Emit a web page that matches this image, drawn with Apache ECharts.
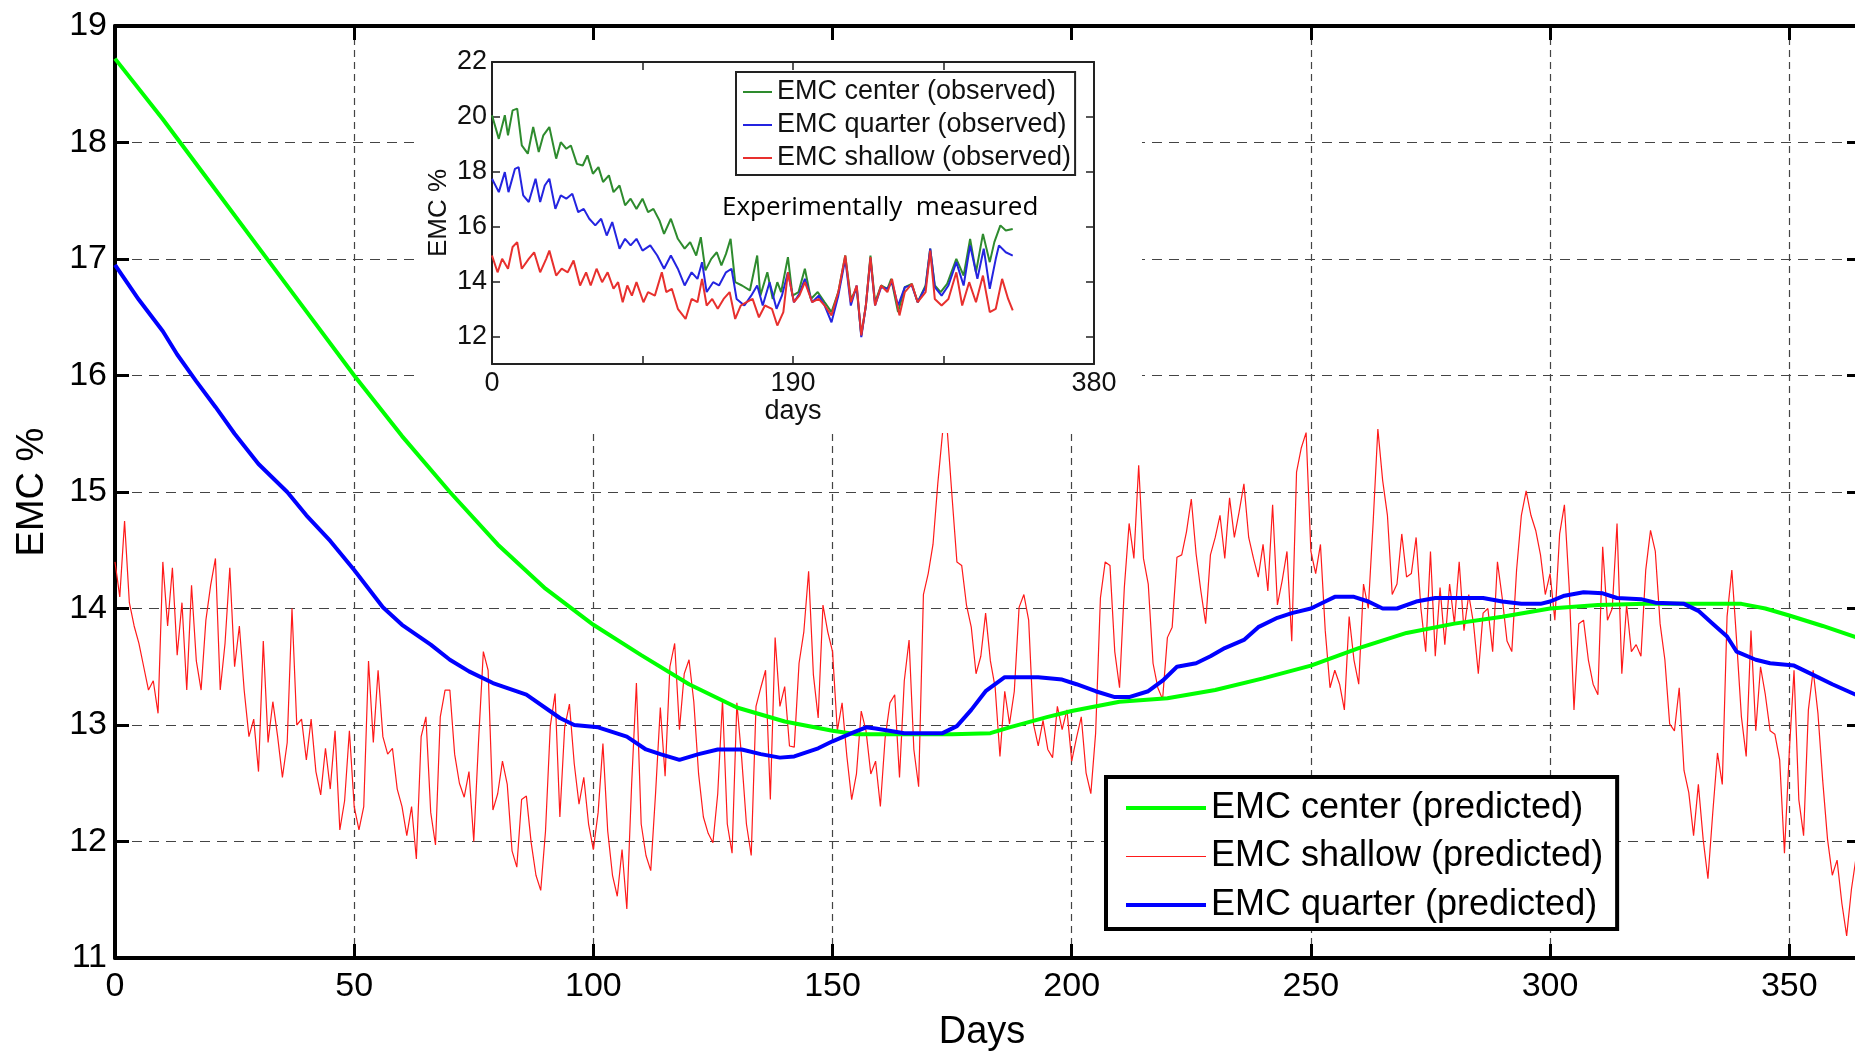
<!DOCTYPE html>
<html><head><meta charset="utf-8">
<script src="https://cdn.jsdelivr.net/npm/echarts@6.0.0/dist/echarts.min.js"></script>
<style>html,body{margin:0;padding:0;background:#fff}#c{width:1855px;height:1052px}</style>
</head><body><div id="c"></div>
<script>
// ---------- main chart data ----------
const xTicksMain = [0, 50, 100, 150, 200, 250, 300, 350];
const yTicksMain = [11, 12, 13, 14, 15, 16, 17, 18, 19];

// EMC center (predicted): [day, value]
const centerPred = [[0,18.72],[10,18.2],[20,17.65],[30,17.1],[40,16.55],[50,16.0],[60,15.48],[70,15.0],[80,14.55],[90,14.17],
  [100,13.86],[110,13.6],[120,13.35],[130,13.15],[140,13.03],[150,12.95],[155,12.92],[165,12.92],[175,12.92],[183,12.93],
  [187,12.98],[195,13.07],[200,13.12],[210,13.2],[220,13.23],[230,13.3],[240,13.4],[250,13.51],[260,13.66],[270,13.79],
  [280,13.87],[290,13.93],[300,14.0],[310,14.03],[320,14.04],[330,14.04],[340,14.04],[345,14.0],[350,13.94],[357,13.85],[365,13.74]];

// EMC quarter (predicted): [day, value]
const quarterPred = [[0,16.95],[5,16.65],[10,16.38],[13,16.18],[17,15.95],[21,15.73],[25,15.5],[30,15.24],[36,15.0],[40,14.8],
  [45,14.58],[50,14.33],[56,14.01],[60,13.86],[66,13.69],[70,13.56],[74,13.46],[79,13.36],[86,13.26],[93,13.06],
  [96,13.0],[101,12.98],[107,12.9],[111,12.79],[114,12.75],[118,12.7],[122,12.75],[126,12.79],[131,12.79],[135,12.75],
  [139,12.72],[142,12.73],[147,12.8],[150,12.86],[154,12.93],[157,12.98],[159,12.97],[165,12.93],[173,12.93],[176,12.99],
  [179,13.13],[182,13.29],[186,13.41],[193,13.41],[198,13.39],[201,13.35],[205,13.29],[209,13.24],[212,13.24],[216,13.29],
  [219,13.38],[222,13.5],[226,13.53],[229,13.59],[232,13.66],[236,13.73],[239,13.84],[243,13.92],[246,13.96],[250,14.0],
  [253,14.06],[255,14.1],[259,14.1],[262,14.06],[265,14.0],[268,14.0],[272,14.06],[276,14.09],[281,14.09],[286,14.09],
  [290,14.06],[294,14.04],[298,14.04],[300,14.06],[303,14.11],[307,14.14],[311,14.13],[314,14.09],[319,14.08],[322,14.05],
  [328,14.04],[331,13.98],[334,13.87],[337,13.76],[339,13.63],[343,13.56],[346,13.53],[351,13.51],[355,13.43],[359,13.35],[365,13.24]];

// EMC shallow (predicted): one value per day, day 0..365
const shallowPred = [
  14.4,14.1,14.75,14.05,13.85,13.7,13.5,13.3,13.38,13.1,
  14.4,13.85,14.35,13.6,14.05,13.3,14.2,13.55,13.3,13.9,
  14.2,14.43,13.3,13.7,14.35,13.5,13.85,13.3,12.9,13.05,
  12.6,13.72,12.85,13.2,12.9,12.55,12.85,14.0,13.0,13.05,
  12.7,13.05,12.6,12.4,12.8,12.45,12.95,12.1,12.35,12.95,
  12.3,12.1,12.3,13.55,12.85,13.47,12.9,12.75,12.8,12.45,
  12.3,12.05,12.3,11.85,12.9,13.07,12.25,11.97,13.07,13.3,
  13.3,12.75,12.5,12.38,12.6,
  12.0,12.86,13.63,13.47,12.27,12.41,12.69,12.49,11.92,11.78,
  12.36,12.39,11.99,11.71,11.58,12.09,12.99,13.27,12.21,12.98,
  13.18,12.67,12.32,12.55,12.15,11.93,12.25,12.84,12.09,11.71,
  11.53,11.93,11.42,12.49,13.36,12.15,11.88,11.75,12.41,13.15,
  12.56,13.5,13.7,12.96,13.44,13.56,13.2,12.58,12.21,12.07,
  11.99,12.41,13.21,12.15,11.9,13.19,12.72,12.15,11.88,13.16,
  13.32,13.47,12.36,13.75,13.16,13.33,12.82,12.81,13.53,13.8,
  14.32,13.43,13.06,
  14.03,13.8,13.63,12.95,13.19,12.73,12.36,12.58,13.12,12.95,
  12.58,12.69,12.3,12.89,13.19,13.26,12.55,13.38,13.73,12.79,
  12.47,14.12,14.3,14.55,15.07,15.51,15.52,14.95,14.4,14.37,
  14.03,13.84,13.44,13.59,13.96,13.55,13.32,12.73,13.29,13.01,
  13.29,14.01,14.12,13.9,13.01,12.82,13.04,12.79,12.72,13.16,
  12.96,13.13,12.69,12.89,13.07,12.59,12.41,12.93,14.09,14.4,
  14.37,13.63,13.32,14.18,14.73,14.43,15.23,14.43,14.21,13.53,
  13.32,13.22,13.75,
  13.84,14.44,14.46,14.66,14.94,14.47,14.15,13.87,14.46,14.61,
  14.8,14.43,14.95,14.61,14.83,15.07,14.61,14.43,14.27,14.55,
  14.15,14.89,14.03,14.24,14.49,13.72,15.17,15.38,15.51,14.49,
  14.3,14.55,13.81,13.32,13.47,13.35,13.13,13.93,13.56,13.35,
  14.21,14.0,14.73,15.54,15.1,14.8,14.12,14.21,14.64,14.27,
  14.3,14.61,14.0,13.63,14.49,13.59,14.18,13.69,14.21,13.87,
  14.4,13.81,14.12,13.87,13.44,13.96,14.0,13.63,14.4,14.09,
  13.72,13.63,14.33,
  14.8,15.01,14.8,14.67,14.46,14.12,14.3,13.9,14.64,14.89,
  14.18,13.13,13.87,13.9,13.56,13.35,13.26,14.53,13.9,14.0,
  14.73,13.44,14.03,13.63,13.69,13.59,14.33,14.67,14.49,13.87,
  13.56,13.01,12.95,13.32,12.61,12.42,12.05,12.49,12.02,11.68,
  12.24,12.76,12.49,13.93,14.33,13.72,13.07,12.73,13.81,12.95,
  13.5,13.26,12.95,12.92,12.7,11.9,12.76,13.47,12.36,12.05,
  13.13,13.47,13.1,12.52,12.02,11.71,11.84,11.47,11.19,11.59,
  11.87,11.8
];

// ---------- inset (experimentally measured) data ----------
const insetXTicks = [0, 190, 380];
const insetYTicks = [12, 14, 16, 18, 20, 22];
const centerObs = [[0,20.06],[4.3,19.2],[8.1,20.06],[10.1,19.33],[13,20.24],[15.9,20.3],[18.8,18.96],[22.6,18.66],[26,19.63],[29.5,18.72],
  [32.4,19.33],[36.2,19.63],[40.5,18.48],[43.4,19.08],[46.9,18.84],[49.8,18.96],[53.6,18.29],[57.3,18.23],[60.2,18.6],[63.7,17.93],
  [67.2,18.17],[70.1,17.63],[73.8,17.87],[76.7,17.26],[80.5,17.5],[84,16.78],[87.5,17.02],[91.2,16.65],[95,17.02],[98.5,16.53],
  [101.9,16.65],[105.7,16.23],[108.6,15.74],[112.9,16.29],[117.3,15.56],[121.6,15.2],[125.1,15.44],[128.9,14.95],[131.8,15.62],[134.7,14.41],
  [138.4,14.83],[141.9,15.07],[144.8,14.59],[147.7,15.01],[150.6,15.56],[153.5,13.98],[157.8,13.86],[162.8,13.68],[167.4,14.95],[169.4,13.49],
  [173.8,14.34],[177.2,13.37],[180.1,13.98],[182.5,13.62],[186.8,14.89],[189.7,13.49],[193.5,13.62],[197.5,14.47],[201.3,13.37],[205.6,13.62],
  [210,13.25],[214.3,12.89],[218.6,13.62],[223,14.95],[226.5,13.37],[230.2,13.74],[233.1,12.04],[236,13.13],[238.9,14.95],[241.8,13.25],
  [245.6,13.86],[249.6,13.74],[252,14.1],[256.3,12.89],[260.6,13.8],[265,13.92],[268.7,13.25],[273.7,13.86],[276.6,15.2],[279.5,13.86],
  [283.2,13.62],[287.3,13.92],[293.1,14.83],[297.7,14.22],[301.8,15.56],[305.5,14.34],[309.9,15.74],[314.2,14.71],[317.1,15.44],[320.9,16.05],
  [324.3,15.86],[328.7,15.92]];
const quarterObs = [[0,17.75],[4.3,17.26],[8.1,17.99],[10.4,17.26],[14.5,18.11],[16.8,18.17],[19.7,17.14],[23.2,16.9],[27.5,17.75],[30.4,16.9],
  [33.3,17.5],[36.2,17.75],[40,16.65],[43.4,17.14],[46.9,17.02],[50.7,17.2],[54.4,16.53],[57.9,16.65],[61.4,16.29],[65.2,16.05],
  [68.9,16.29],[72.4,15.68],[75.9,16.17],[80.5,15.2],[84,15.56],[87.5,15.32],[91.2,15.56],[95,15.13],[99.9,15.32],[104.3,14.95],
  [108.6,14.47],[112.9,14.95],[117.3,14.47],[121.6,13.86],[126,14.34],[129.7,14.1],[132.6,14.71],[135.5,13.62],[139.6,13.98],[143.3,13.86],
  [147.7,14.34],[151.2,14.47],[154.4,13.37],[159.3,13.13],[163.6,13.49],[167.4,13.86],[170.9,13.13],[175.2,13.98],[179.6,13.01],[183,13.49],
  [186.8,14.34],[190.6,13.25],[194,13.56],[197.5,14.1],[202.1,13.25],[206.2,13.49],[210,13.13],[214.3,12.52],[218.6,13.49],[223,14.83],
  [226.5,13.13],[230.2,13.86],[233.1,11.98],[236,13.13],[238.9,14.83],[241.8,13.13],[245.6,13.8],[249.6,13.74],[252.5,13.98],[256.3,13.13],
  [260.6,13.8],[265,13.86],[268.7,13.25],[273.7,13.8],[276.6,15.2],[279.5,13.8],[283.8,13.49],[288.1,13.86],[293.1,14.71],[297.7,13.86],
  [301.8,15.32],[306.4,14.1],[310.4,15.2],[314.2,13.74],[318,14.83],[320,15.32],[324.3,15.07],[328.7,14.95]];
const shallowObs = [[0,14.95],[3.5,14.34],[6.4,14.83],[10.1,14.47],[13,15.26],[15.9,15.44],[18.8,14.47],[23.2,14.83],[26.6,15.07],[30.4,14.34],
  [34.2,14.83],[36.2,15.13],[40.5,14.22],[44,14.47],[47.8,14.34],[51.5,14.77],[55.6,13.86],[59.4,14.34],[62.3,13.86],[66,14.47],
  [69.5,13.98],[73,14.34],[76.7,13.74],[79.6,13.98],[82.5,13.25],[85.4,13.86],[88.3,13.49],[91.2,13.98],[95.6,13.25],[98.5,13.62],
  [102.8,13.49],[107.2,14.34],[110,13.62],[113.5,13.74],[117.3,13.01],[122.2,12.64],[126,13.37],[129.7,13.25],[132.6,14.1],[135.5,13.13],
  [139,13.37],[142.5,13.01],[146.2,13.37],[150,13.62],[153.5,12.64],[157,13.13],[160.7,13.25],[164.5,13.37],[168.5,12.7],[172.3,13.13],
  [176.7,13.01],[180.1,12.4],[183.9,12.89],[186.8,14.34],[190.6,13.25],[194,13.49],[197.5,13.98],[202.1,13.25],[206.2,13.37],[210,13.13],
  [214.3,12.77],[218.6,13.62],[223,14.95],[226.5,13.25],[230.2,13.86],[233.1,12.04],[236,13.13],[238.9,14.89],[241.8,13.13],[245.6,13.86],
  [249.6,13.62],[252.5,14.1],[257.2,12.77],[260.6,13.62],[265,13.92],[268.7,13.25],[273.7,13.62],[276.6,15.13],[279.5,13.37],[283.8,13.13],
  [288.1,13.37],[293.1,14.34],[296.8,13.13],[301.2,13.98],[305.5,13.25],[309.9,14.22],[314.2,12.89],[318,13.01],[322,14.1],[325.8,13.37],[328.7,12.95]];

// ---------- chart ----------
const FONT = '"Liberation Sans", Arial, Helvetica, sans-serif';
const chart = echarts.init(document.getElementById('c'), null, {renderer: 'canvas'});

const mainAxisLine = {show: true, onZero: false, lineStyle: {color: '#000', width: 4}};
const mainTick = {show: true, inside: true, length: 14, lineStyle: {color: '#000', width: 3}};
const insetAxisLine = {show: true, onZero: false, lineStyle: {color: '#222', width: 2}};
const insetTick = {show: true, inside: true, length: 8, lineStyle: {color: '#222', width: 1.5}};

const option = {
  animation: false,
  backgroundColor: '#fff',
  grid: [
    {left: 115, top: 26, width: 1746, height: 932, show: false, containLabel: false, outerBoundsMode: 'none'},
    {left: 492, top: 62, width: 602, height: 302, show: false, z: 10, containLabel: false, outerBoundsMode: 'none'}
  ],
  xAxis: [
    {gridIndex: 0, type: 'value', min: 0, max: 365, interval: 50, z: 0,
      name: 'Days', nameLocation: 'middle', nameGap: 56,
      nameTextStyle: {fontSize: 38, color: '#000', fontFamily: FONT, padding: [0, 12, 0, 0]},
      axisLine: mainAxisLine, axisTick: mainTick,
      axisLabel: {fontSize: 34, color: '#000', fontFamily: FONT, margin: 12, showMaxLabel: false,
        formatter: v => xTicksMain.includes(v) ? String(v) : ''},
      splitLine: {show: true, lineStyle: {color: '#444', width: 1.2, type: [7, 5]}}},
    {gridIndex: 0, type: 'value', position: 'top', min: 0, max: 365, interval: 50, z: 6,
      axisLine: mainAxisLine, axisTick: mainTick, axisLabel: {show: false}, splitLine: {show: false}},
    {gridIndex: 1, type: 'value', min: 0, max: 380, interval: 95, z: 10,
      name: 'days', nameLocation: 'middle', nameGap: 32,
      nameTextStyle: {fontSize: 27, color: '#111', fontFamily: FONT},
      axisLine: insetAxisLine, axisTick: insetTick,
      axisLabel: {fontSize: 27, color: '#111', fontFamily: FONT, margin: 6,
        formatter: v => insetXTicks.includes(v) ? String(v) : ''},
      splitLine: {show: false}},
    {gridIndex: 1, type: 'value', position: 'top', min: 0, max: 380, interval: 95, z: 10,
      axisLine: insetAxisLine, axisTick: insetTick, axisLabel: {show: false}, splitLine: {show: false}}
  ],
  yAxis: [
    {gridIndex: 0, type: 'value', min: 11, max: 19, interval: 1, z: 0,
      name: 'EMC %', nameLocation: 'middle', nameGap: 63,
      nameTextStyle: {fontSize: 38, color: '#000', fontFamily: FONT},
      axisLine: mainAxisLine, axisTick: mainTick,
      axisLabel: {fontSize: 34, color: '#000', fontFamily: FONT, margin: 8,
        formatter: v => yTicksMain.includes(v) ? String(v) : ''},
      splitLine: {show: true, lineStyle: {color: '#444', width: 1.2, type: [10, 7]}}},
    {gridIndex: 0, type: 'value', position: 'right', min: 11, max: 19, interval: 1, z: 6,
      axisLine: mainAxisLine, axisTick: mainTick, axisLabel: {show: false}, splitLine: {show: false}},
    {gridIndex: 1, type: 'value', min: 11, max: 22, z: 10,
      name: 'EMC %', nameLocation: 'middle', nameGap: 40,
      nameTextStyle: {fontSize: 26, color: '#111', fontFamily: FONT},
      axisLine: insetAxisLine,
      axisTick: Object.assign({customValues: insetYTicks}, insetTick),
      axisLabel: {fontSize: 27, color: '#111', fontFamily: FONT, margin: 5, customValues: insetYTicks},
      splitLine: {show: false}},
    {gridIndex: 1, type: 'value', position: 'right', min: 11, max: 22, z: 10,
      axisLine: insetAxisLine,
      axisTick: Object.assign({customValues: insetYTicks}, insetTick),
      axisLabel: {show: false}, splitLine: {show: false}}
  ],
  legend: [
    {data: ['EMC center (predicted)', 'EMC shallow (predicted)', 'EMC quarter (predicted)'],
      orient: 'vertical', left: 1106, top: 777, padding: [10, 14, 3, 18], itemGap: 6.5,
      itemWidth: 80, itemHeight: 14, backgroundColor: '#fff', borderColor: '#000', borderWidth: 4,
      itemStyle: {opacity: 0}, lineStyle: {width: 'inherit'},
      textStyle: {fontSize: 36, color: '#000', fontFamily: FONT, lineHeight: 42},
      selectedMode: false, z: 8},
    {data: ['EMC center (observed)', 'EMC quarter (observed)', 'EMC shallow (observed)'],
      orient: 'vertical', left: 736, top: 72, padding: [5, 4, 2, 6], itemGap: 3,
      itemWidth: 29, itemHeight: 10, backgroundColor: '#fff', borderColor: '#222', borderWidth: 2,
      itemStyle: {opacity: 0}, lineStyle: {width: 'inherit'},
      textStyle: {fontSize: 27, color: '#111', fontFamily: FONT, lineHeight: 30},
      selectedMode: false, z: 12}
  ],
  graphic: [
    {type: 'rect', shape: {x: 414, y: 30, width: 728, height: 403}, style: {fill: '#fff'}, z: 5, silent: true},
    {type: 'text', x: 722, y: 208, z: 12, silent: true,
      style: {text: 'Experimentally  measured', fontSize: 26, fontFamily: '"Open Sans", "Noto Sans", sans-serif',
        fill: '#000', verticalAlign: 'middle'}}
  ],
  series: [
    {name: 'EMC shallow (predicted)', type: 'line', xAxisIndex: 0, yAxisIndex: 0, symbol: 'none',
      data: shallowPred.map((v, i) => [i, v]), lineStyle: {color: '#ff1a1a', width: 1.2}, itemStyle: {color: '#ff1a1a'}, z: 2},
    {name: 'EMC center (predicted)', type: 'line', xAxisIndex: 0, yAxisIndex: 0, symbol: 'none',
      data: centerPred, lineStyle: {color: '#00ff00', width: 4}, itemStyle: {color: '#00ff00'}, z: 3},
    {name: 'EMC quarter (predicted)', type: 'line', xAxisIndex: 0, yAxisIndex: 0, symbol: 'none',
      data: quarterPred, lineStyle: {color: '#0000ff', width: 4}, itemStyle: {color: '#0000ff'}, z: 3},
    {name: 'EMC center (observed)', type: 'line', xAxisIndex: 2, yAxisIndex: 2, symbol: 'none',
      data: centerObs, lineStyle: {color: '#2e8b2e', width: 2}, itemStyle: {color: '#2e8b2e'}, z: 10},
    {name: 'EMC quarter (observed)', type: 'line', xAxisIndex: 2, yAxisIndex: 2, symbol: 'none',
      data: quarterObs, lineStyle: {color: '#2424e0', width: 2}, itemStyle: {color: '#2424e0'}, z: 10},
    {name: 'EMC shallow (observed)', type: 'line', xAxisIndex: 2, yAxisIndex: 2, symbol: 'none',
      data: shallowObs, lineStyle: {color: '#e8302e', width: 2}, itemStyle: {color: '#e8302e'}, z: 10}
  ]
};
chart.setOption(option);
</script></body></html>
